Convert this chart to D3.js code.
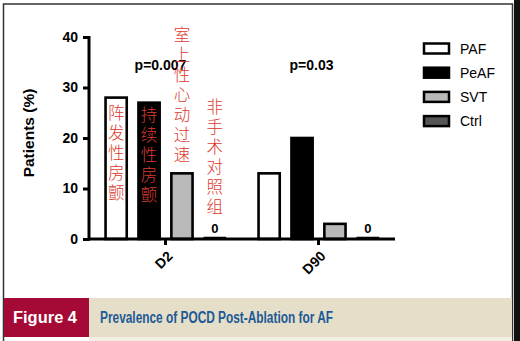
<!DOCTYPE html>
<html><head><meta charset="utf-8">
<script src="https://cdn.jsdelivr.net/npm/d3@7"></script>
<style>body{margin:0;background:#fff}svg{display:block}</style>
</head><body>
<script>
const categories = ["D2", "D90"];
const series = ["PAF", "PeAF", "SVT", "Ctrl"];
const values = {
  PAF: [28, 13],
  PeAF: [27, 20],
  SVT: [13, 3],
  Ctrl: [0, 0]
};
const fills = { PAF: "#ffffff", PeAF: "#000000", SVT: "#b9b9b9", Ctrl: "#555555" };
const yTicks = [0, 10, 20, 30, 40];
const pLabels = ["p=0.007", "p=0.03"];
const zeroLabels = ["0", "0"];
const cnLabels = ["阵发性房颤", "持续性房颤", "室上性心动过速", "非手术对照组"];
const cnTops = [104, 106, 26, 98];

const W = 520, H = 341;
const svg = d3.select("body").append("svg").attr("width", W).attr("height", H);

// frame
svg.append("rect").attr("x", 0).attr("y", 0).attr("width", W).attr("height", H).attr("fill", "#fff");
svg.append("rect").attr("x", 3.5).attr("y", 4).attr("width", 509).attr("height", 340)
  .attr("fill", "none").attr("stroke", "#333").attr("stroke-width", 1.5);
svg.append("rect").attr("x", 514).attr("y", 0).attr("width", 6).attr("height", H).attr("fill", "#111");

// caption band
svg.append("rect").attr("x", 89).attr("y", 298).attr("width", 423).attr("height", 39).attr("fill", "#e5dec9");
svg.append("rect").attr("x", 89).attr("y", 337).attr("width", 423).attr("height", 4).attr("fill", "#f2efe2");
svg.append("rect").attr("x", 4).attr("y", 298).attr("width", 85).attr("height", 39).attr("fill", "#a50a36");
svg.append("text").attr("x", 13).attr("y", 323).attr("fill", "#fff")
  .attr("font-family", "Liberation Sans, Arial, sans-serif").attr("font-weight", "bold").attr("font-size", 16)
  .attr("textLength", 64).attr("lengthAdjust", "spacingAndGlyphs").text("Figure 4");
svg.append("text").attr("x", 100).attr("y", 323).attr("fill", "#1d5a96")
  .attr("font-family", "Liberation Sans, Arial, sans-serif").attr("font-weight", "bold").attr("font-size", 16)
  .attr("textLength", 233).attr("lengthAdjust", "spacingAndGlyphs").text("Prevalence of POCD Post-Ablation for AF");

// scales
const x0 = d3.scaleBand().domain(categories).range([89, 395]).paddingInner(0.2).paddingOuter(0.1);
const x1 = d3.scaleBand().domain(series).range([0, x0.bandwidth()]).paddingInner(0.28).paddingOuter(0);
const y = d3.scaleLinear().domain([0, 40]).range([239, 37]);

const font = "Liberation Sans, Arial, Helvetica, sans-serif";

// bars
const g = svg.append("g");
categories.forEach((c, ci) => {
  series.forEach((s, si) => {
    const v = values[s][ci];
    const h = Math.max(y(0) - y(v), 1);
    g.append("rect")
      .attr("x", x0(c) + x1(s) + 1.25)
      .attr("y", y(v) - (v === 0 ? 1.5 : 0))
      .attr("width", x1.bandwidth() - 2.5)
      .attr("height", v === 0 ? 1 : h)
      .attr("fill", fills[s]).attr("stroke", "#000").attr("stroke-width", v === 0 ? 1.5 : 2.6);
  });
});

// y axis
const yAxis = svg.append("g").attr("transform", "translate(89,0)")
  .call(d3.axisLeft(y).tickValues(yTicks).tickSize(6).tickPadding(5).tickFormat(d3.format("d")));
yAxis.select(".domain").attr("stroke-width", 3).attr("d", "M0," + (y(40) - 1) + "V" + (y(0) + 1.5));
yAxis.selectAll(".tick line").attr("stroke-width", 3);
yAxis.selectAll("text").attr("font-family", font).attr("font-weight", "bold").attr("font-size", 14).attr("fill", "#000");

// x axis
const xAxis = svg.append("g").attr("transform", "translate(0,239)")
  .call(d3.axisBottom(x0).tickSize(6).tickSizeOuter(0));
xAxis.select(".domain").attr("stroke-width", 3).attr("d", "M89,0H395");
xAxis.selectAll(".tick line").attr("stroke-width", 3);
xAxis.selectAll("text").attr("font-family", font).attr("font-weight", "bold").attr("font-size", 14).attr("fill", "#000")
  .attr("text-anchor", "end").attr("dy", null).attr("y", 0)
  .attr("transform", "translate(8,18) rotate(-45)");

// y label
svg.append("text").attr("transform", "translate(34,133) rotate(-90)").attr("text-anchor", "middle")
  .attr("font-family", font).attr("font-weight", "bold").attr("font-size", 15.5).text("Patients (%)");

// p labels
categories.forEach((c, ci) => {
  svg.append("text").attr("x", x0(c) + x0.bandwidth() / 2 - 5 + (ci ? -2 : 0)).attr("y", 70).attr("text-anchor", "middle")
    .attr("font-family", font).attr("font-weight", "bold").attr("font-size", 14).text(pLabels[ci]);
  svg.append("text").attr("x", x0(c) + x1("Ctrl") + x1.bandwidth() / 2).attr("y", 233).attr("text-anchor", "middle")
    .attr("font-family", font).attr("font-weight", "bold").attr("font-size", 13).text(zeroLabels[ci]);
});

// legend
const leg = svg.append("g");
series.forEach((s, i) => {
  const cy = 48.5 + i * 24.2;
  leg.append("rect").attr("x", 424).attr("y", cy - 5).attr("width", 25).attr("height", 10)
    .attr("fill", fills[s]).attr("stroke", "#000").attr("stroke-width", 2.5);
  leg.append("text").attr("x", 460).attr("y", cy + 5).attr("font-family", font).attr("font-size", 14).text(s);
});

// Chinese annotations (vertical)
series.forEach((s, si) => {
  const cx = x0("D2") + x1(s) + x1.bandwidth() / 2;
  const chars = Array.from(cnLabels[si]);
  const t = svg.append("text").attr("text-anchor", "middle").attr("fill", "#dc3a2f")
    .attr("font-family", "Noto Sans CJK SC, sans-serif").attr("font-weight", 300).attr("font-size", 16.5);
  chars.forEach((ch, k) => {
    t.append("tspan").attr("x", cx).attr("y", cnTops[si] + 14.5 + k * 20).text(ch);
  });
});
</script>
</body></html>
